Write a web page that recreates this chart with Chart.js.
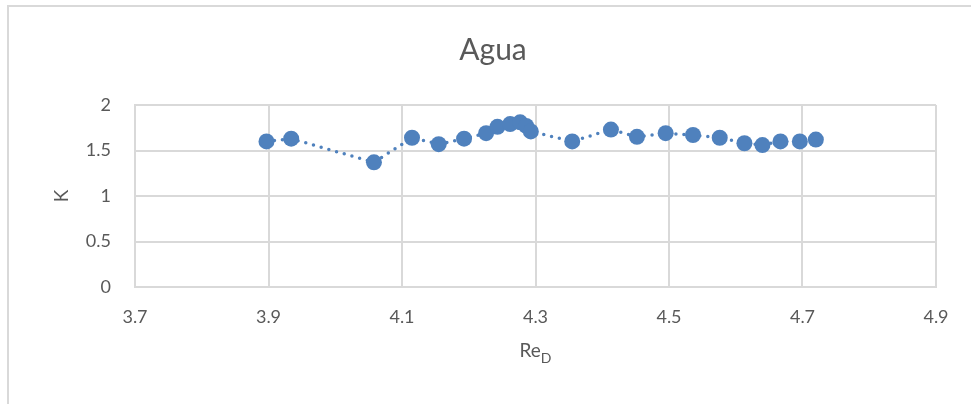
<!DOCTYPE html>
<html>
<head>
<meta charset="utf-8">
<script src="https://cdn.jsdelivr.net/npm/chart.js@4"></script>
<style>
    body { margin: 0; background: #fff; }
    #wrap { position: relative; width: 971px; height: 404px; }
    #frame {
        position: absolute; left: 7px; top: 5px; width: 980px; height: 420px;
        border-left: 2px solid #d9d9d9; border-top: 2px solid #d9d9d9;
    }
    canvas { position: absolute; left: 0; top: 0; }
</style>
</head>
<body>
<div id="wrap">
    <div id="frame"></div>
    <canvas id="chart" width="971" height="404"></canvas>
</div>
<script>
// Re_D (log) y K
const reD = [3.897, 3.934, 4.058, 4.115, 4.155, 4.193, 4.226, 4.243, 4.262, 4.277, 4.286, 4.293,
             4.355, 4.413, 4.452, 4.495, 4.536, 4.576, 4.613, 4.640, 4.667, 4.696, 4.720];
const kVals = [1.60, 1.63, 1.37, 1.64, 1.57, 1.63, 1.69, 1.76, 1.79, 1.81, 1.77, 1.71,
               1.60, 1.73, 1.65, 1.69, 1.67, 1.64, 1.58, 1.56, 1.60, 1.60, 1.62];

const textColor = '#595959';
const gridColor = '#d9d9d9';
const blue = '#4f81bd';
const fuente = 'Lato, "Open Sans", sans-serif';

const puntos = reD.map((x, i) => ({ x: x, y: kVals[i] }));

// titulo del eje x con subindice
const tituloX = {
    id: 'tituloX',
    afterDraw(chart) {
        const ctx = chart.ctx;
        const area = chart.chartArea;
        const cx = (area.left + area.right) / 2;
        ctx.save();
        ctx.fillStyle = textColor;
        ctx.textBaseline = 'alphabetic';
        ctx.font = '19px ' + fuente;
        const w1 = ctx.measureText('Re').width;
        ctx.font = '14px ' + fuente;
        const w2 = ctx.measureText('D').width;
        const x0 = cx - (w1 + w2) / 2;
        ctx.font = '19px ' + fuente;
        ctx.fillText('Re', x0, 357);
        ctx.font = '14px ' + fuente;
        ctx.fillText('D', x0 + w1, 363);
        ctx.restore();
    }
};

new Chart(document.getElementById('chart'), {
    type: 'scatter',
    data: {
        datasets: [{
            data: puntos,
            showLine: true,
            borderColor: blue,
            borderWidth: 3.5,
            borderDash: [0, 8],
            borderCapStyle: 'round',
            backgroundColor: blue,
            pointRadius: 8,
            pointHoverRadius: 8,
            pointBorderWidth: 0
        }]
    },
    options: {
        responsive: false,
        animation: false,
        layout: { padding: { left: 50, right: 35, top: 0, bottom: 0 } },
        plugins: {
            legend: { display: false },
            tooltip: { enabled: false },
            title: {
                display: true,
                text: 'Agua',
                color: textColor,
                font: { family: fuente, size: 30, weight: 'normal' },
                padding: { top: 32, bottom: 37 }
            }
        },
        scales: {
            x: {
                type: 'linear',
                min: 3.7,
                max: 4.9,
                afterFit(s) { s.height = 117; },
                ticks: {
                    stepSize: 0.2,
                    color: textColor,
                    font: { family: fuente, size: 18 },
                    padding: 19
                },
                grid: { color: gridColor, lineWidth: 2, drawTicks: false },
                border: { color: gridColor, width: 2 }
            },
            y: {
                min: 0,
                max: 2,
                afterFit(s) { s.width = 85; },
                ticks: {
                    stepSize: 0.5,
                    color: textColor,
                    font: { family: fuente, size: 18 },
                    padding: 24,
                    callback: v => String(v)
                },
                grid: { color: gridColor, lineWidth: 2, drawTicks: false },
                border: { color: gridColor, width: 2 },
                title: {
                    display: true,
                    text: 'K',
                    color: textColor,
                    font: { family: fuente, size: 19 },
                    padding: { top: 0, bottom: 0 }
                }
            }
        }
    },
    plugins: [tituloX]
});
</script>
</body>
</html>
